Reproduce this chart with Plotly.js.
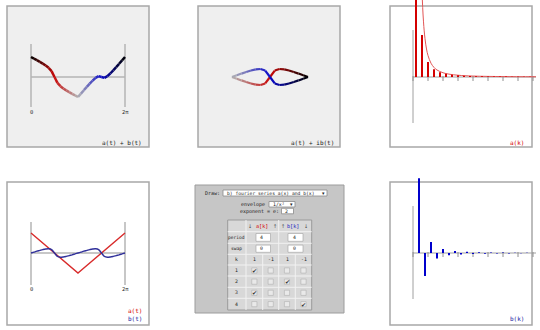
<!DOCTYPE html>
<html><head><meta charset="utf-8">
<script src="https://cdn.plot.ly/plotly-3.0.1.min.js"></script>
<style>html,body{margin:0;padding:0;background:#fff}#chart{width:540px;height:330px}</style>
</head><body><div id="chart"></div>
<script>
// ---------------- data ----------------
// sample positions as fraction of one period (0 .. 2π)
const tFrac = [0,0.03125,0.0625,0.09375,0.125,0.15625,0.1875,0.21875,0.25,0.28125,0.3125,0.34375,0.375,0.40625,0.4375,0.46875,0.5,
               0.53125,0.5625,0.59375,0.625,0.65625,0.6875,0.71875,0.75,0.78125,0.8125,0.84375,0.875,0.90625,0.9375,0.96875,1];
// a(t): triangle wave
const aVals = [1,0.875,0.75,0.625,0.5,0.375,0.25,0.125,0,-0.125,-0.25,-0.375,-0.5,-0.625,-0.75,-0.875,-1,
               -0.875,-0.75,-0.625,-0.5,-0.375,-0.25,-0.125,0,0.125,0.25,0.375,0.5,0.625,0.75,0.875,1];
// b(t): small wavy curve
const bVals = [0,0.045,0.09,0.13,0.17,0.2,0.21,0.17,0,-0.17,-0.21,-0.2,-0.17,-0.13,-0.09,-0.045,0,
               0.045,0.09,0.13,0.17,0.2,0.21,0.17,0,-0.17,-0.21,-0.2,-0.17,-0.13,-0.09,-0.045,0];
// spectrum a[k] (odd k)
const aK    = [1,3,5,7,9,11,13,15,17,19,21,23,25,27,29,31,33,35,37,39];
const aCoef = [0.81,0.09,0.032,0.0165,0.01,0.0067,0.0048,0.0036,0.0028,0.0022,0.0018,0.0015,0.0013,0.0011,0.00096,0.00084,0.00074,0.00066,0.00059,0.00053];
// envelope curve over a[k]
const envK   = [2.6,3,3.5,4,4.5,5,6,7,8,10,12,15,20,30,41];
const envVal = [0.288,0.184,0.118,0.082,0.060,0.046,0.0295,0.0205,0.015,0.0091,0.0061,0.0038,0.002,0.0009,0.0005];
// spectrum b[k] (even k)
const bK    = [2,4,6,8,10,12,14,16,18,20,22,24,26,28,30,32,34,36,38];
const bCoef = [0.16,-0.049,0.0235,-0.012,0.0086,-0.0047,0.0042,-0.003,0.0026,-0.0021,0.0018,-0.0015,0.0013,-0.0011,0.001,-0.0009,0.0008,-0.0007,0.0007];
const tickLabels = ['0','2π'];
const majorTicksK = [0,5,10,15,20,25,30,35,40];

// ---------------- helpers ----------------
const W = 540, H = 330;
const MONO = 'DejaVu Sans Mono';
function xAx(p0,p1,zeroPx,ppu){return {domain:[p0/W,p1/W],range:[(p0-zeroPx)/ppu,(p1-zeroPx)/ppu],visible:false,fixedrange:true,showgrid:false,zeroline:false};}
function yAx(p0,p1,zeroPx,ppu){return {domain:[1-p1/H,1-p0/H],range:[(zeroPx-p1)/ppu,(zeroPx-p0)/ppu],visible:false,fixedrange:true,showgrid:false,zeroline:false};}
function rect(x0,y0,x1,y1,fill,line,lw){return {type:'rect',xref:'paper',yref:'paper',x0:x0/W,x1:x1/W,y0:1-y1/H,y1:1-y0/H,fillcolor:fill,line:{color:line,width:lw||0},layer:'below'};}
function pline(x0,y0,x1,y1,color,lw){return {type:'line',xref:'paper',yref:'paper',x0:x0/W,x1:x1/W,y0:1-y0/H,y1:1-y1/H,line:{color:color,width:lw||1},layer:'below'};}
function dline(ax,x0,y0,x1,y1,color,lw){return {type:'line',xref:'x'+ax,yref:'y'+ax,x0:x0,x1:x1,y0:y0,y1:y1,line:{color:color,width:lw||1},layer:'below'};}
function txt(s,x,y,size,color,anchor,fam){return {text:s,xref:'paper',yref:'paper',x:x/W,y:1-y/H,xanchor:anchor||'center',yanchor:'middle',showarrow:false,font:{family:fam||MONO,size:size||6,color:color||'#222'}};}
function dtxt(ax,s,x,y,size,color){return {text:s,xref:'x'+ax,yref:'y'+ax,x:x,y:y,xanchor:'center',yanchor:'middle',showarrow:false,font:{family:MONO,size:size,color:color}};}

const stops=[[0,[0,0,0]],[0.25,[200,10,10]],[0.5,[180,180,180]],[0.75,[10,10,200]],[1,[0,0,0]]];
function cmap(f){
  for(let i=0;i<stops.length-1;i++){
    const [f0,c0]=stops[i],[f1,c1]=stops[i+1];
    if(f<=f1){const u=(f-f0)/(f1-f0);const c=c0.map((v,j)=>Math.round(v+(c1[j]-v)*u));return 'rgb('+c.join(',')+')';}
  }
  return 'rgb(0,0,0)';
}

const traces=[];
function gradient(ax,X,Y,width){
  for(let i=0;i<X.length-1;i++){
    traces.push({x:[X[i],X[i+1]],y:[Y[i],Y[i+1]],mode:'lines',xaxis:'x'+ax,yaxis:'y'+ax,
      line:{color:cmap((tFrac[i]+tFrac[i+1])/2),width:width},hoverinfo:'skip',showlegend:false});
  }
}
const sumVals = aVals.map((v,i)=>v+bVals[i]);

// panel 1: a(t)+b(t)
gradient('',tFrac,sumVals,2.5);
// panel 2: a(t)+ib(t)
gradient('2',aVals,bVals,2.2);
// panel 3: a[k] stems + envelope
function stems(K,V){const x=[],y=[];K.forEach((k,i)=>{x.push(k,k,null);y.push(0,V[i],null);});return {x,y};}
const sa=stems(aK,aCoef);
traces.push({x:envK,y:envVal,mode:'lines',line:{color:'#e25555',width:1,shape:'spline'},xaxis:'x3',yaxis:'y3',hoverinfo:'skip'});
traces.push({x:sa.x,y:sa.y,mode:'lines',line:{color:'#d40000',width:2},xaxis:'x3',yaxis:'y3',hoverinfo:'skip'});
// panel 4: a(t), b(t)
traces.push({x:tFrac,y:aVals,mode:'lines',line:{color:'#d82a2a',width:1.4},xaxis:'x4',yaxis:'y4',hoverinfo:'skip'});
traces.push({x:tFrac,y:bVals,mode:'lines',line:{color:'#30309a',width:1.4,shape:'spline'},xaxis:'x4',yaxis:'y4',hoverinfo:'skip'});
// panel 6: b[k] stems
const sb=stems(bK,bCoef);
traces.push({x:sb.x,y:sb.y,mode:'lines',line:{color:'#0000cc',width:2},xaxis:'x6',yaxis:'y6',hoverinfo:'skip'});

// ---------------- shapes ----------------
const shapes=[];
const ann=[];
// panel frames
shapes.push(rect(7,6,149,147,'#efefef','#a8a8a8',1.5));
shapes.push(rect(198,6,340,147,'#efefef','#a8a8a8',1.5));
shapes.push(rect(390,6,532,147,'#ffffff','#a8a8a8',1.5));
shapes.push(rect(7,182,149,325,'#ffffff','#a8a8a8',1.5));
shapes.push(rect(390,182,532,325,'#ffffff','#a8a8a8',1.5));

// time-domain axes
const SPX=467;
[['',1.65,-1.5,-1.75],['4',1.55,-1.6,-1.8]].forEach(([ax,top,bot,lab])=>{
  shapes.push(dline(ax,0,bot,0,top,'#b4b4b4',1.5));
  shapes.push(dline(ax,1,bot,1,top,'#b4b4b4',1.5));
  shapes.push(dline(ax,0,0,1,0,'#b4b4b4',1.5));
  ann.push(dtxt(ax,tickLabels[0],0,lab,5.5,'#333'));
  ann.push(dtxt(ax,tickLabels[1],1,lab,5.5,'#333'));
});
// spectrum axes
['3','6'].forEach(ax=>{
  shapes.push(dline(ax,0,-0.0985,0,0.1006,'#a0a0a0',1));
  shapes.push(dline(ax,0,0,41,0,'#a0a0a0',1));
  majorTicksK.forEach(k=>shapes.push(dline(ax,k,1/SPX,k,-4/SPX,'#909090',1)));
});

// labels
ann.push(txt('a(t) + b(t)',144,142,6,'#222','right'));
ann.push(txt('a(t) + ib(t)',336,142,6,'#222','right'));
ann.push(txt('a(k)',526,142,6,'#d40000','right'));
ann.push(txt('a(t)',144,310.5,6,'#d40000','right'));
ann.push(txt('b(t)',144,318.5,6,'#2020a0','right'));
ann.push(txt('b(k)',526,318.5,6,'#2020a0','right'));

// ---------------- form panel (bottom middle) ----------------
shapes.push(rect(195,185,344,313,'#c6c6c6','#9c9c9c',1));
ann.push(txt('Draw:',222,192.5,5,'#222','right'));
shapes.push(rect(223,190,327,196,'#ffffff','#8a8a8a',0.8));
ann.push(txt('b) fourier series a(x) and b(x)',225,193,4.7,'#222','left'));
ann.push(txt('▾',323,193,5,'#222','center','DejaVu Sans'));
ann.push(txt('envelope',267,204.3,5,'#222','right'));
shapes.push(rect(269,201.5,295,207,'#ffffff','#8a8a8a',0.8));
ann.push(txt('1/x²',270.5,204.3,4.8,'#222','left'));
ann.push(txt('▾',291.5,204.3,5,'#222','center','DejaVu Sans'));
ann.push(txt('exponent = e:',280.5,211,5,'#222','right'));
shapes.push(rect(281.5,208.3,293.5,213.8,'#ffffff','#8a8a8a',0.8));
ann.push(txt('2',283,211,4.8,'#222','left'));

// table
const cx=[227.7,246,262.7,278.7,295.3,311.7];
const ry=[220,231.7,243.3,254.3,265,276,287.3,298.3,310];
shapes.push(rect(cx[0],ry[0],cx[5],ry[8],'#d8d8d8','#9a9a9a',1));
for(let i=1;i<8;i++) shapes.push(pline(cx[0],ry[i],cx[5],ry[i],'#f2f2f2',1));
shapes.push(pline(cx[1],ry[0],cx[1],ry[8],'#f2f2f2',1));
shapes.push(pline(cx[3],ry[0],cx[3],ry[8],'#f2f2f2',1));
shapes.push(pline(cx[2],ry[3],cx[2],ry[8],'#f2f2f2',1));
shapes.push(pline(cx[4],ry[3],cx[4],ry[8],'#f2f2f2',1));
const rc=i=>(ry[i]+ry[i+1])/2, cc=j=>(cx[j]+cx[j+1])/2;
// header
ann.push(txt('↓',250,rc(0),5,'#444','center','DejaVu Sans'));
ann.push(txt('a[k]',262.5,rc(0),5.2,'#d40000'));
ann.push(txt('↑',274.5,rc(0),5,'#444','center','DejaVu Sans'));
ann.push(txt('↑',283.3,rc(0),5,'#444','center','DejaVu Sans'));
ann.push(txt('b[k]',293,rc(0),5.2,'#2020c0'));
ann.push(txt('↓',306.5,rc(0),5,'#444','center','DejaVu Sans'));
// period / swap
ann.push(txt('period',cc(0),rc(1),4.6,'#222'));
ann.push(txt('swap',cc(0),rc(2),4.6,'#222'));
[[1,'4','4'],[2,'0','0']].forEach(([r,va,vb])=>{
  shapes.push(rect(256,ry[r]+1.8,270.5,ry[r+1]-2,'#ffffff','#a0a0a0',0.6));
  shapes.push(rect(288,ry[r]+1.8,303,ry[r+1]-2,'#ffffff','#a0a0a0',0.6));
  ann.push(txt(va,258,rc(r),4.8,'#222','left'));
  ann.push(txt(vb,290.5,rc(r),4.8,'#222','left'));
});
// k row
ann.push(txt('k',cc(0),rc(3),4.8,'#222'));
['1','-1','1','-1'].forEach((s,j)=>ann.push(txt(s,cc(j+1),rc(3),4.8,'#222')));
// checkbox rows
const rowLabels=['1','2','3','4'];
const checked=[[1,0,0,0],[0,0,1,0],[1,0,0,0],[0,0,0,1]];
rowLabels.forEach((lab,i)=>{
  const r=i+4;
  ann.push(txt(lab,cc(0),rc(r),4.8,'#222'));
  for(let j=0;j<4;j++){
    const x=cc(j+1), y=rc(r);
    shapes.push(rect(x-2.6,y-2.6,x+2.6,y+2.6,'#e9e9e9','#b0b0b0',0.6));
    if(checked[i][j]) ann.push(txt('✔',x+0.3,y,6,'#333','center','DejaVu Sans'));
  }
});

const layout={
  width:W,height:H,margin:{l:0,r:0,t:0,b:0},showlegend:false,
  paper_bgcolor:'#ffffff',plot_bgcolor:'rgba(0,0,0,0)',
  xaxis:Object.assign(xAx(7,149,31,94),{anchor:'y'}),yaxis:Object.assign(yAx(6,147,77,20),{anchor:'x'}),
  xaxis2:Object.assign(xAx(198,340,270,38),{anchor:'y2'}),yaxis2:Object.assign(yAx(6,147,77,38),{anchor:'x2'}),
  xaxis3:Object.assign(xAx(390,540,413,3),{anchor:'y3'}),yaxis3:Object.assign(yAx(0,147,77,SPX),{anchor:'x3'}),
  xaxis4:Object.assign(xAx(7,149,31,94),{anchor:'y4'}),yaxis4:Object.assign(yAx(182,325,253,20),{anchor:'x4'}),
  xaxis6:Object.assign(xAx(390,540,413,3),{anchor:'y6'}),yaxis6:Object.assign(yAx(165,325,253,SPX),{anchor:'x6'}),
  shapes:shapes,annotations:ann
};
Plotly.newPlot('chart',traces,layout,{staticPlot:true,displayModeBar:false});
</script></body></html>
